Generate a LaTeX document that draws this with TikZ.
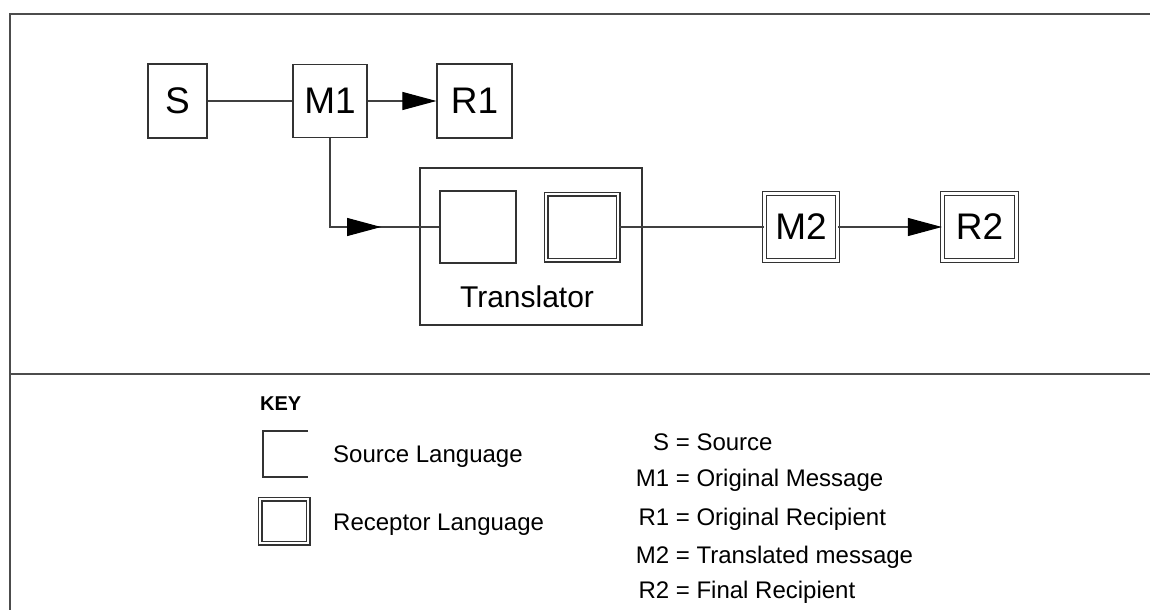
\documentclass[tikz,border=0pt]{standalone}
\usepackage{fontspec}
\setmainfont{Liberation Sans}
\usetikzlibrary{arrows.meta,decorations.markings}
\begin{document}
\begin{tikzpicture}[x=1pt,y=-1pt,
  frame/.style={draw=black!70, line width=1.4pt},
  box/.style={draw=black!80, line width=1.2pt, inner sep=0pt, text=black,
              font=\fontsize{37}{40}\selectfont},
  dbox/.style={box, double=white, double distance=2.6pt},
  conn/.style={draw=black!75, line width=1.1pt},
  tip/.style={-{Triangle[length=34pt,width=18pt,color=black]}},
  keytxt/.style={text=black, font=\fontsize{24}{27}\selectfont, inner sep=0pt}
]
\useasboundingbox (0,0) rectangle (1150,610);
% frame
\draw[frame] (1150,14) -- (10,14) -- (10,610);
\draw[frame] (10,374) -- (1150,374);

% top row
\node[box, minimum width=59pt, minimum height=74pt] (S) at (177.5,101) {S};
\node[box, minimum width=74pt, minimum height=73pt] (M1) at (330,101) {M1};
\node[box, minimum width=75pt, minimum height=74pt] (R1) at (474.5,101) {R1};

% translator
\node[box, minimum width=222pt, minimum height=157pt] (T) at (531,246.5) {};
\node[box, minimum width=76pt, minimum height=72pt] (L) at (478,227) {};
\node[dbox, minimum width=72pt, minimum height=66pt] (Rt) at (582,227) {};
\node[text=black, font=\fontsize{30}{34}\selectfont, inner sep=0pt] (Tl) at (527,297) {Translator};

% second row
\node[dbox, minimum width=73pt, minimum height=67pt] (M2) at (801,227) {M2};
\node[dbox, minimum width=74pt, minimum height=67pt] (R2) at (979.5,227) {R2};

% connectors
\draw[conn] (S) -- (M1);
\draw[conn, tip] (M1) -- (R1);
\draw[conn, postaction={decorate}, decoration={markings,
   mark=at position 140pt with {\arrow{Triangle[length=34pt,width=18pt,color=black]}}}]
   (M1.south) |- (L.west);
\draw[conn] (Rt.east) -- (M2.west);
\draw[conn, tip] (M2) -- (R2);

% key
\node[keytxt, anchor=west, font=\bfseries\fontsize{20}{24}\selectfont] (key) at (260,404) {KEY};
\draw[box] (308,431) -- (263,431) -- (263,477) -- (308,477);
\node[keytxt, anchor=west] (ksl) at (333,457) {Source Language};
\node[dbox, minimum width=48pt, minimum height=44pt] (krl) at (284,521) {};
\node[keytxt, anchor=west] (krt) at (333,525) {Receptor Language};

\node[keytxt, anchor=base west] (k1) at (636,450) {\makebox[33pt][r]{S} = Source};
\node[keytxt, anchor=base west] (k2) at (636,486) {\makebox[33pt][r]{M1} = Original Message};
\node[keytxt, anchor=base west] (k3) at (636,525) {\makebox[33pt][r]{R1} = Original Recipient};
\node[keytxt, anchor=base west] (k4) at (636,563) {\makebox[33pt][r]{M2} = Translated message};
\node[keytxt, anchor=base west] (k5) at (636,598) {\makebox[33pt][r]{R2} = Final Recipient};
\end{tikzpicture}
\end{document}
